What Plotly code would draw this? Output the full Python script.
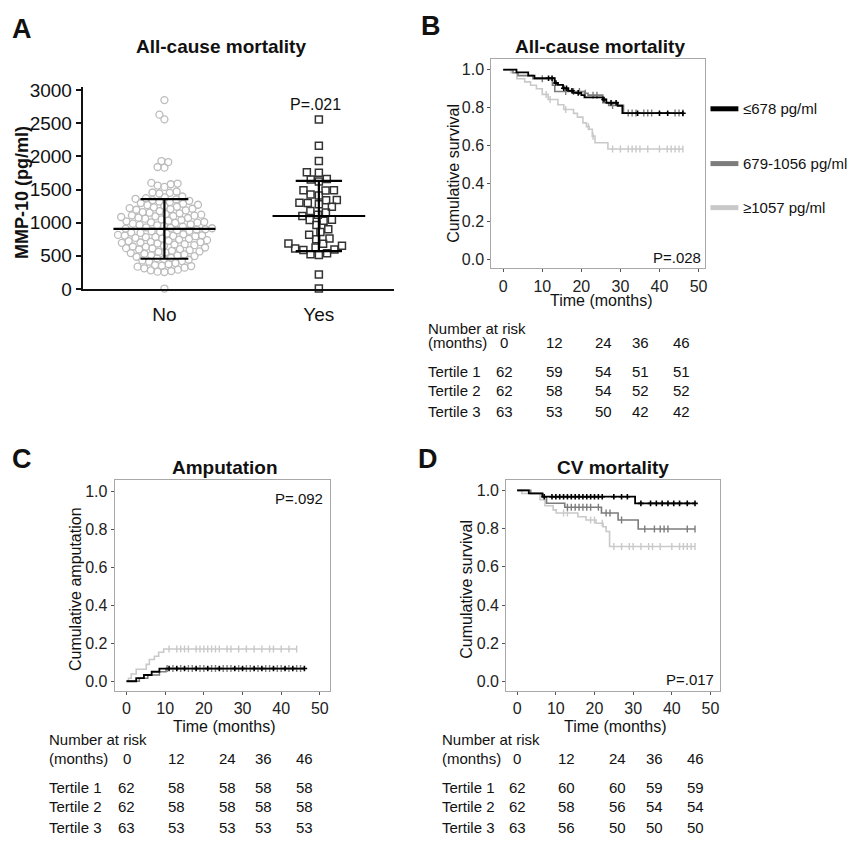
import numpy as np
import plotly.graph_objects as go

W, H = 851, 846
FONT = "Liberation Sans, Arial, Helvetica, sans-serif"

# ------------------------------------------------------------------ data
# Panel A : MMP-10 by all-cause mortality
categories_A = ["No", "Yes"]
mmp10_no = [2850, 2630, 2560, 1930, 1915, 1840, 1830,
            1600, 1590, 1580, 1560, 1540, 1470, 1455, 1450, 1440,
            1395, 1380, 1370, 1360, 1350, 1340, 1330, 1320, 1310,
            1295, 1285, 1270, 1265, 1250, 1240, 1230, 1220, 1210, 1205,
            1195, 1185, 1175, 1160, 1150, 1140, 1130, 1120, 1110, 1105, 1100,
            1095, 1085, 1075, 1070, 1060, 1050, 1040, 1030, 1020, 1010, 1005, 1000,
            995, 985, 975, 965, 960, 950, 940, 930, 920, 915, 910, 900,
            895, 885, 875, 870, 860, 850, 845, 835, 825, 815, 810, 805, 800,
            795, 785, 780, 770, 760, 755, 745, 735, 725, 720, 710, 705, 700,
            695, 685, 675, 670, 660, 650, 640, 635, 625, 615, 610, 600,
            595, 585, 575, 565, 560, 550, 540, 530, 520, 510, 505,
            495, 485, 470, 460, 450, 440, 430, 420, 410,
            390, 375, 360, 350, 345, 335, 320, 310,
            290, 280, 270, 260, 255,
            5]
mmp10_yes = [2557, 2160, 1930, 1760, 1755, 1660, 1650, 1620,
             1490, 1488, 1485, 1424, 1410, 1340, 1338, 1300, 1295, 1276, 1240,
             1177, 1153, 1120, 1100, 1045, 1040, 1030, 966, 900, 857, 818,
             760, 750, 685, 680, 650, 626, 611, 596, 586,
             537, 522, 512, 217, 5]
mean_A = [905, 1100]
sd_A = [450, 530]
p_A = "P=.021"
yticks_A = [0, 500, 1000, 1500, 2000, 2500, 3000]

# Panel B : All-cause mortality KM
B_t1_time = [0, 3.4, 6.4, 8.0, 13.2, 14.0, 15.3, 16.6, 17.9, 20.0, 20.8, 25.5, 26.4, 29.3, 30.5, 46]
B_t1_surv = [1.0, 0.986, 0.969, 0.955, 0.930, 0.920, 0.902, 0.889, 0.878, 0.866, 0.854, 0.843, 0.826, 0.810, 0.771, 0.771]
B_t2_time = [0, 2.5, 3.8, 7.6, 12.6, 13.2, 20.8, 21.7, 25.5, 27.0, 30.8, 46]
B_t2_surv = [1.0, 0.984, 0.969, 0.952, 0.918, 0.885, 0.876, 0.866, 0.826, 0.812, 0.772, 0.772]
B_t3_time = [0, 2.0, 3.5, 5.5, 7.0, 8.5, 10.0, 11.5, 14.0, 15.5, 18.0, 19.0, 20.4, 21.3, 22.0, 22.8, 23.5, 26.8, 46]
B_t3_surv = [1.0, 0.984, 0.952, 0.936, 0.918, 0.900, 0.870, 0.843, 0.815, 0.790, 0.770, 0.750, 0.720, 0.700, 0.686, 0.650, 0.615, 0.582, 0.582]
B_t1_cens = [11.6, 12.5, 13.5, 15.5, 16.2, 17.6, 19.2, 25.8, 27.6, 28.9, 34.4, 40.0, 42.1, 46]
B_t2_cens = [10, 16, 18, 19.5, 21, 23, 24, 28, 32, 33, 34, 36, 37, 38, 44, 45, 46]
B_t3_cens = [11, 12, 16, 21.8, 23.0, 28, 30, 32, 33, 34, 35, 37, 40, 42, 43, 44, 45, 46]
p_B = "P=.028"

# Panel C : Amputation (cumulative incidence)
C_t1_time = [0, 2.5, 4.5, 6.5, 8.5, 46]
C_t1_val = [0.0, 0.016, 0.033, 0.050, 0.067, 0.067]
C_t2_time = [0, 3.3, 5.5, 8.5, 10.2, 46]
C_t2_val = [0.0, 0.016, 0.033, 0.050, 0.067, 0.067]
C_t3_time = [0, 0.5, 1.2, 2.5, 5.1, 5.9, 7.2, 8.3, 9.6, 44]
C_t3_val = [0.0, 0.016, 0.038, 0.063, 0.089, 0.115, 0.132, 0.153, 0.170, 0.170]
C_t1_cens = [11, 13, 15, 18, 21, 24, 28, 30, 33, 35, 38, 41, 43, 46]
C_t2_cens = [10.5, 12, 14, 16, 17, 19, 20, 22, 23, 25, 26, 27, 29, 31, 32, 34, 36, 37, 39, 40, 42, 44, 45]
C_t3_cens = [11, 13, 14, 15, 16, 18, 19, 20, 21, 22, 23, 24, 26, 27, 29, 31, 33, 35, 37, 38, 40, 42, 44]
p_C = "P=.092"

# Panel D : CV mortality KM
D_t1_time = [0, 3.0, 6.5, 30.5, 46]
D_t1_surv = [1.0, 0.984, 0.967, 0.932, 0.932]
D_t2_time = [0, 3.5, 6.7, 7.6, 12.3, 21.8, 26.1, 31.3, 46]
D_t2_surv = [1.0, 0.984, 0.965, 0.933, 0.912, 0.882, 0.845, 0.798, 0.798]
D_t3_time = [0, 1.2, 5.9, 7.2, 9.3, 10.1, 15.7, 17.8, 20.4, 22.2, 23.0, 23.9, 46]
D_t3_surv = [1.0, 0.984, 0.952, 0.920, 0.898, 0.882, 0.862, 0.845, 0.828, 0.810, 0.785, 0.706, 0.706]
D_t1_cens = [7, 9, 10, 11, 12, 13, 14, 15, 16, 17, 18, 19, 20, 21, 22, 25, 27, 28.5,
             32, 34.5, 36, 37.5, 39, 40.5, 42, 44, 46]
D_t2_cens = [13, 14, 15, 16, 17, 18, 19, 21, 23, 24, 27, 33, 35.5, 37, 38, 39, 44, 46]
D_t3_cens = [12, 13, 19, 20, 22, 25, 27, 29, 30, 32, 34, 35, 37, 40, 42, 43, 44, 45, 46]
p_D = "P=.017"

# legend / groups
group_names = ["\u2264678 pg/ml", "679-1056 pg/ml", "\u22651057 pg/ml"]
group_colors = ["#000000", "#7c7c7c", "#c9c9c9"]

# Number at risk tables
risk_months = [0, 12, 24, 36, 46]
risk_rows = ["Tertile 1", "Tertile 2", "Tertile 3"]
risk_B = [[62, 59, 54, 51, 51], [62, 58, 54, 52, 52], [63, 53, 50, 42, 42]]
risk_C = [[62, 58, 58, 58, 58], [62, 58, 58, 58, 58], [63, 53, 53, 53, 53]]
risk_D = [[62, 60, 60, 59, 59], [62, 58, 56, 54, 54], [63, 56, 50, 50, 50]]

km_xticks = [0, 10, 20, 30, 40, 50]
km_yticks = [0.0, 0.2, 0.4, 0.6, 0.8, 1.0]

# ------------------------------------------------------------------ helpers
def px(x):
    return x / W


def py(y):
    return 1 - y / H


def swarm(values, dmin, ppu):
    """simple beeswarm: returns horizontal offsets in pixels"""
    vals = np.asarray(values, dtype=float)
    order = np.argsort(vals)
    placed = []
    offs = np.zeros(len(vals))
    for i in order:
        y = vals[i] * ppu
        near = [(xj, yj) for xj, yj in placed if abs(yj - y) < dmin]
        cands = [0.0]
        for xj, yj in near:
            dx = np.sqrt(dmin ** 2 - (yj - y) ** 2)
            cands += [xj - dx, xj + dx]
        cands.sort(key=lambda c: (abs(c), c))
        for c in cands:
            if all((c - xj) ** 2 + (y - yj) ** 2 >= dmin ** 2 - 1e-6 for xj, yj in near):
                offs[i] = c
                break
        placed.append((offs[i], y))
    return offs


def step_at(times, vals, t):
    idx = np.searchsorted(np.asarray(times), np.asarray(t), side="right") - 1
    return np.asarray(vals)[idx]


fig = go.Figure()

# ------------------------------------------------------------------ Panel A
A_left, A_right, A_bottom, A_top = 83, 395, 288, 82
A_xpix_per_unit = 155.0
A_xr = [(A_left - 165) / A_xpix_per_unit, (A_right - 165) / A_xpix_per_unit]
A_ymax = 3044
A_ppu = (A_bottom - A_top) / A_ymax

off_no = swarm(mmp10_no, 6.9, A_ppu) / A_xpix_per_unit
off_yes = swarm(mmp10_yes, 8.4, A_ppu) / A_xpix_per_unit

fig.add_trace(go.Scatter(x=0 + off_no, y=mmp10_no, mode="markers", xaxis="x", yaxis="y",
                         marker=dict(symbol="circle-open", size=7, color="#bcbcbc",
                                     line=dict(width=1.3)), cliponaxis=False,
                         showlegend=False, hoverinfo="y"))
fig.add_trace(go.Scatter(x=1 + off_yes, y=mmp10_yes, mode="markers", xaxis="x", yaxis="y",
                         marker=dict(symbol="square-open", size=7, color="#333333",
                                     line=dict(width=1.5)), cliponaxis=False,
                         showlegend=False, hoverinfo="y"))
ex, ey = [], []
half_mean = [0.33, 0.30]
half_cap = [0.155, 0.15]
for i in range(2):
    m, s = mean_A[i], sd_A[i]
    ex += [i - half_mean[i], i + half_mean[i], None,
           i - half_cap[i], i + half_cap[i], None,
           i - half_cap[i], i + half_cap[i], None,
           i, i, None]
    ey += [m, m, None, m + s, m + s, None, m - s, m - s, None, m - s, m + s, None]
fig.add_trace(go.Scatter(x=ex, y=ey, mode="lines", xaxis="x", yaxis="y",
                         line=dict(color="#000000", width=2.2), showlegend=False,
                         hoverinfo="skip", cliponaxis=False))

# ------------------------------------------------------------------ KM panels
def add_km(axis_suffix, curves, censors):
    xa, ya = "x" + axis_suffix, "y" + axis_suffix
    for k in [2, 1, 0]:
        t, v = curves[k]
        fig.add_trace(go.Scatter(x=t, y=v, mode="lines", line_shape="hv", xaxis=xa, yaxis=ya,
                                 line=dict(color=group_colors[k], width=1.8 if k == 0 else 1.6),
                                 showlegend=False, hoverinfo="skip"))
        ct = censors[k]
        cy = step_at(t, v, ct)
        if k == 0:
            mk = dict(symbol="cross-thin", size=4, color=group_colors[k],
                      line=dict(width=1.6, color=group_colors[k]))
        else:
            mk = dict(symbol="line-ns", size=5, color=group_colors[k],
                      line=dict(width=1.4, color=group_colors[k]))
        fig.add_trace(go.Scatter(x=ct, y=cy, mode="markers", xaxis=xa, yaxis=ya, marker=mk,
                                 showlegend=False, hoverinfo="skip"))


add_km("2", [(B_t1_time, B_t1_surv), (B_t2_time, B_t2_surv), (B_t3_time, B_t3_surv)],
       [B_t1_cens, B_t2_cens, B_t3_cens])
add_km("3", [(C_t1_time, C_t1_val), (C_t2_time, C_t2_val), (C_t3_time, C_t3_val)],
       [C_t1_cens, C_t2_cens, C_t3_cens])
add_km("4", [(D_t1_time, D_t1_surv), (D_t2_time, D_t2_surv), (D_t3_time, D_t3_surv)],
       [D_t1_cens, D_t2_cens, D_t3_cens])


def km_axes(x0, x1, y_bottom, y_top, xr, yr, anchor_x, anchor_y):
    common = dict(showline=True, mirror=True, linecolor="#a8a8a8", linewidth=1,
                  ticks="outside", ticklen=3, tickwidth=1, tickcolor="#555555",
                  tickfont=dict(size=16, color="#222222", family=FONT),
                  showgrid=False, zeroline=False, fixedrange=True)
    xa = dict(common, domain=[px(x0), px(x1)], range=xr, tickvals=km_xticks, anchor=anchor_y)
    ya = dict(common, domain=[py(y_bottom), py(y_top)], range=yr, tickvals=km_yticks,
              tickformat=".1f", anchor=anchor_x)
    return xa, ya


xB, yB = km_axes(493, 707, 267, 53, [-3.06, 51.53], [-0.046, 1.057], "x2", "y2")
xC, yC = km_axes(115, 331, 699, 483, [-3.09, 52.58], [-0.052, 1.062], "x3", "y3")
xD, yD = km_axes(508, 723, 699, 483, [-2.84, 52.58], [-0.051, 1.056], "x4", "y4")

# ------------------------------------------------------------------ annotations
ann = []


def txt(s, x, y, size, bold=False, xanchor="center", angle=0, color="#111111"):
    ann.append(dict(text=f"<b>{s}</b>" if bold else s, x=px(x), y=py(y),
                    xref="paper", yref="paper", showarrow=False,
                    xanchor=xanchor, yanchor="middle", textangle=angle,
                    font=dict(size=size, family=FONT, color=color)))


# panel letters
txt("A", 22, 22, 27, bold=True)
txt("B", 433, 19, 27, bold=True)
txt("C", 22, 462, 27, bold=True)
txt("D", 430, 462, 27, bold=True)
# titles
txt("All-cause mortality", 222, 40, 19, bold=True)
txt("All-cause mortality", 602, 40, 19, bold=True)
txt("Amputation", 226, 471, 19, bold=True)
txt("CV mortality", 615, 471, 19, bold=True)
# axis titles
txt("MMP-10 (pg/ml)", 22, 189, 18, bold=True, angle=-90)
txt("Cumulative survival", 455, 170, 16, angle=-90)
txt("Cumulative amputation", 76, 595, 16, angle=-90)
txt("Cumulative survival", 468, 595, 16, angle=-90)
txt("Time (months)", 604, 300, 16)
txt("Time (months)", 225, 735, 16)
txt("Time (months)", 618, 735, 16)
# p-values
txt(p_A, 317, 100, 16)
txt(p_B, 679, 256, 15)
txt(p_C, 300, 502, 15)
txt(p_D, 692, 687, 15)

# legend for B
legend_y = [104, 160, 205]
shapes = []
for k in range(3):
    shapes.append(dict(type="line", xref="paper", yref="paper",
                       x0=px(713), x1=px(741), y0=py(legend_y[k]), y1=py(legend_y[k]),
                       line=dict(color=group_colors[k], width=5)))
    txt(group_names[k], 744, legend_y[k], 15, xanchor="left")


# number at risk tables
def risk_table(left, cols, y_head, y_months, y_rows, table):
    txt("Number at risk", left, y_head, 15, xanchor="left")
    txt("(months)", left, y_months, 15, xanchor="left")
    for j, m in enumerate(risk_months):
        txt(str(m), cols[j], y_months, 15)
    for r, name in enumerate(risk_rows):
        txt(name, left, y_rows[r], 15, xanchor="left")
        for j, n in enumerate(table[r]):
            txt(str(n), cols[j], y_rows[r], 15)


risk_table(428, [506, 556, 606, 643, 684], 328, 343, [372, 392, 413], risk_B)
risk_table(47, [127, 177, 228, 264, 306], 748, 768, [797, 817, 838], risk_C)
risk_table(442, [519, 569, 620, 657, 698], 748, 768, [797, 817, 838], risk_D)

# ------------------------------------------------------------------ layout
fig.update_layout(
    width=W, height=H, margin=dict(l=0, r=0, t=0, b=0),
    paper_bgcolor="white", plot_bgcolor="white",
    font=dict(family=FONT, color="#111111"),
    showlegend=False,
    xaxis=dict(domain=[px(A_left), px(A_right)], range=A_xr, tickvals=[0, 1],
               ticktext=categories_A, showline=True, linewidth=2, linecolor="#111111",
               ticks="outside", ticklen=7, tickcolor="rgba(0,0,0,0)",
               tickfont=dict(size=19, color="#111111", family=FONT),
               showgrid=False, zeroline=False, anchor="y", fixedrange=True),
    yaxis=dict(domain=[py(A_bottom), py(A_top)], range=[0, A_ymax], tickvals=yticks_A,
               showline=True, linewidth=2, linecolor="#111111",
               ticks="outside", ticklen=5, tickwidth=2, tickcolor="#111111",
               tickfont=dict(size=19, color="#111111", family=FONT),
               showgrid=False, zeroline=False, anchor="x", fixedrange=True),
    xaxis2=xB, yaxis2=yB, xaxis3=xC, yaxis3=yC, xaxis4=xD, yaxis4=yD,
    annotations=ann, shapes=shapes,
)

fig.write_html("out.html", config={"displayModeBar": False},
               post_script="document.body.style.margin='0px';document.body.style.overflow='hidden';")
